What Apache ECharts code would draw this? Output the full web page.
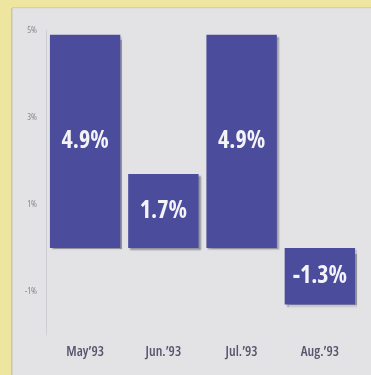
<!DOCTYPE html>
<html>
<head>
<meta charset="utf-8">
<script src="https://cdn.jsdelivr.net/npm/echarts@6/dist/echarts.min.js"></script>
<style>
html,body{margin:0;padding:0;background:#ede5a0;}
#c{width:371px;height:375px;}
</style>
</head>
<body>
<div id="c"></div>
<script>
const categories = ["May’93", "Jun.’93", "Jul.’93", "Aug.’93"];
const values = [4.9, 1.7, 4.9, -1.3];
const yTickValues = [5, 3, 1, -1];

const chart = echarts.init(document.getElementById('c'), null, {renderer: 'canvas'});
const narrow = '"Open Sans", sans-serif';

chart.setOption({
  backgroundColor: '#ede5a0',
  animation: false,
  graphic: [
    {type: 'rect', z: -10, shape: {x: 12, y: 8, width: 359, height: 367}, style: {fill: '#e3e3e5'}},
    {type: 'rect', z: -9, shape: {x: 11, y: 8, width: 1.5, height: 367}, style: {fill: '#c9c6b0'}},
    {type: 'rect', z: -9, shape: {x: 12, y: 7, width: 359, height: 1.2}, style: {fill: '#d2cfb5'}}
  ],
  grid: {left: 46, right: 12, top: 30.5, bottom: 40, containLabel: false},
  xAxis: {
    type: 'category',
    data: categories,
    axisLine: {show: false},
    axisTick: {show: false},
    axisLabel: {color: '#55556c', fontFamily: narrow, fontStyle: 'condensed', fontWeight: 600, fontSize: 14, margin: 10}
  },
  yAxis: {
    type: 'value',
    min: -2, max: 5, interval: 1,
    splitLine: {show: false},
    axisTick: {show: false},
    axisLine: {show: true, lineStyle: {color: '#cfcfd3', width: 1}},
    axisLabel: {
      color: '#85858c', fontFamily: narrow, fontStyle: 'condensed', fontSize: 9, margin: 9,
      formatter: function (v) { return yTickValues.indexOf(v) >= 0 ? v + '%' : ''; }
    }
  },
  series: [{
    type: 'bar',
    data: values,
    barCategoryGap: '10%',
    itemStyle: {
      color: '#4b4c9c',
      shadowColor: 'rgba(95,95,110,0.6)',
      shadowBlur: 1.5,
      shadowOffsetX: 2,
      shadowOffsetY: 2
    },
    label: {
      show: true,
      position: 'inside',
      color: '#f4f4f8',
      fontFamily: narrow,
      fontStyle: 'condensed',
      fontWeight: 'bold',
      fontSize: 24,
      formatter: function (p) { return p.value.toFixed(1) + '%'; }
    }
  }]
});
</script>
</body>
</html>
